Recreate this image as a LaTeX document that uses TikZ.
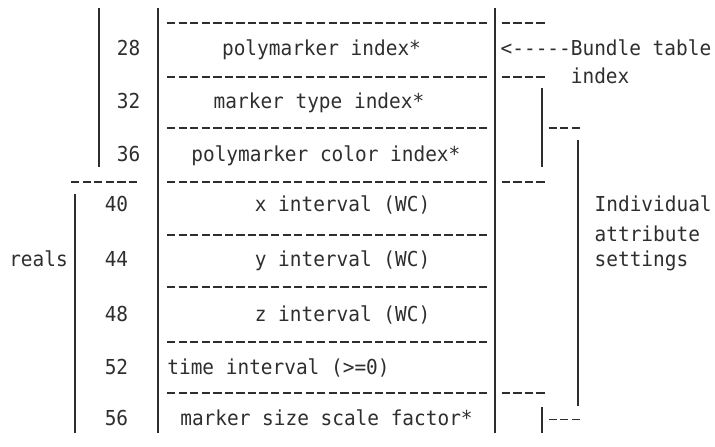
\documentclass[tikz,border=0pt]{standalone}
\usepackage{fontspec}
\newfontfamily\monofam[FakeStretch=0.943]{DejaVu Sans Mono}
\definecolor{ink}{HTML}{2E2E2E}
\tikzset{
  txt/.style={font=\monofam\fontsize{20.6}{24}\selectfont, text=ink, inner sep=0pt, anchor=base},
  txtw/.style={txt, anchor=base west},
  bar/.style={draw=ink, line width=2pt},
  sep/.style={draw=ink, line width=1.8pt, dash pattern=on 8.3pt off 3.25pt},
}
\begin{document}
\begin{tikzpicture}[x=1pt,y=-1pt]
\useasboundingbox (0,0) rectangle (715,447);
% vertical bars
\draw[bar] (99,8) -- (99,167);
\draw[bar] (158,8) -- (158,433);
\draw[bar] (75,194) -- (75,433);
\draw[bar] (495,8) -- (495,433);
\draw[bar] (541.7,88) -- (541.7,167);
\draw[bar] (541.7,407) -- (541.7,433);
\draw[bar] (578,140) -- (578,406);
% box separators
\foreach \yy in {23.3,76.7,128.3,181.7,235,287.3,341.7,393.3}
  \draw[sep] (167,\yy) -- (487,\yy);
% right short dashes
\foreach \yy in {23.3,76.7,181.7,393.3}
  \draw[sep] (501.7,\yy) -- (547,\yy);
\draw[sep] (548.5,128.3) -- (582,128.3);
\draw[sep] (548.5,419.5) -- (582,419.5);
% left dashes
\draw[sep] (71,181.7) -- (138.5,181.7);
% offsets
\node[txt] (n28) at (128.5,55.8) {28};
\node[txt] (n32) at (128.5,108.5) {32};
\node[txt] (n36) at (128.5,161) {36};
\node[txt] (n40) at (116.5,211.5) {40};
\node[txt] (n44) at (116.5,266.5) {44};
\node[txt] (n48) at (116.5,321) {48};
\node[txt] (n52) at (116.5,374.2) {52};
\node[txt] (n56) at (116.5,425.5) {56};
\node[txt] (reals) at (38.5,266.5) {reals};
% fields
\node[txt] (f28) at (321.5,55.8) {polymarker index*};
\node[txt] (f32) at (319,108.5) {marker type index*};
\node[txt] (f36) at (325.9,161) {polymarker color index*};
\node[txt] (f40) at (342.5,211.5) {x interval (WC)};
\node[txt] (f44) at (342.5,266.5) {y interval (WC)};
\node[txt] (f48) at (342.5,321) {z interval (WC)};
\node[txt] (f52) at (278.5,374.2) {time interval (>=0)};
\node[txt] (f56) at (326.5,425.5) {marker size scale factor*};
% right labels
\node[txtw] (bt) at (500.5,55.8) {<-----Bundle table};
\node[txtw] (bi) at (570.7,83.2) {index};
\node[txtw] (ia) at (594.5,211.5) {Individual};
\node[txtw] (ib) at (594.5,241.5) {attribute};
\node[txtw] (ic) at (594.5,266.5) {settings};
\end{tikzpicture}
\end{document}
